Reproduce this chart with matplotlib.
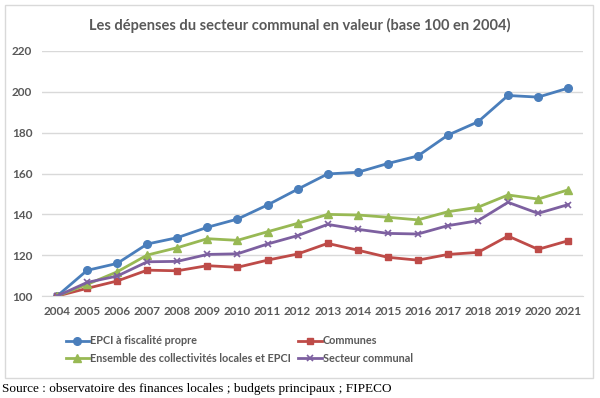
import numpy as np
import matplotlib.pyplot as plt
from matplotlib.patches import Rectangle

years = list(range(2004, 2022))
epci = [100, 112.6, 116.0, 125.5, 128.6, 133.7, 137.7, 144.6, 152.3, 159.8,
        160.6, 164.9, 168.6, 178.8, 185.3, 198.2, 197.4, 201.8]
communes = [100, 103.8, 107.4, 112.7, 112.4, 114.9, 114.1, 117.6, 120.6, 125.8,
            122.5, 119.0, 117.6, 120.4, 121.4, 129.4, 122.9, 127.1]
ensemble = [100, 105.7, 111.9, 120.1, 123.7, 128.1, 127.3, 131.5, 135.6, 140.0,
            139.7, 138.6, 137.3, 141.3, 143.5, 149.5, 147.5, 152.0]
secteur = [100, 106.7, 109.8, 116.8, 117.0, 120.4, 120.7, 125.5, 129.6, 135.1,
           132.7, 130.7, 130.4, 134.5, 136.9, 145.9, 140.5, 144.8]
labels = ["EPCI à fiscalité propre", "Communes",
          "Ensemble des collectivités locales et EPCI", "Secteur communal"]
yticks = [100, 120, 140, 160, 180, 200, 220]

plt.rcParams['font.family'] = ['Lato', 'DejaVu Sans']
grey = '#595959'

fig = plt.figure(figsize=(6, 3.98), dpi=100)
ax = fig.add_axes([0.07, 0.256, 0.902, 0.616])

# chart frame
fig.patches.append(Rectangle((5/600, 1-378/398), 588/600, 373/398, transform=fig.transFigure,
                             fill=False, edgecolor='#d9d9d9', lw=1))

x = np.arange(len(years))
h1, = ax.plot(x, epci, color='#4a7ebb', lw=2, marker='o', ms=5.5)
h2, = ax.plot(x, communes, color='#be4b48', lw=2, marker='s', ms=5)
h3, = ax.plot(x, ensemble, color='#98b954', lw=2, marker='^', ms=5.5)
h4, = ax.plot(x, secteur, color='#7d60a0', lw=2, marker='x', ms=5, mew=1.2)

ax.set_xlim(-0.5, len(years) - 0.5)
ax.set_ylim(100, 220)
ax.set_yticks(yticks)
ax.set_xticks(x)
ax.set_xticklabels([str(y) for y in years])
ax.grid(axis='y', color='#d9d9d9', lw=1)
ax.set_axisbelow(True)
for s in ['top', 'right', 'left']:
    ax.spines[s].set_visible(False)
ax.spines['bottom'].set_color('#d9d9d9')
ax.tick_params(length=0, labelsize=8.5, labelcolor=grey, pad=7)
for t in ax.get_xticklabels() + ax.get_yticklabels():
    t.set_fontweight('bold')

fig.text(0.5, 1-25/398, "Les dépenses du secteur communal en valeur (base 100 en 2004)",
         ha='center', va='center', fontsize=10.5, fontweight='bold', color=grey)

leg = fig.legend([h1, h3, h2, h4], [labels[0], labels[2], labels[1], labels[3]],
                 ncol=2, loc='upper left', bbox_to_anchor=(0.102, 1-331/398),
                 frameon=False, fontsize=7.8, handlelength=2.2, columnspacing=0.6,
                 handletextpad=0.1, labelspacing=0.6, borderaxespad=0)
for t in leg.get_texts():
    t.set_color(grey)
    t.set_fontweight('bold')

fig.text(2/600, 1-389/398, "Source : observatoire des finances locales ; budgets principaux ; FIPECO",
         ha='left', va='center', fontsize=9.5, family='Liberation Serif', color='black')

fig.savefig('out.png', dpi=100)
